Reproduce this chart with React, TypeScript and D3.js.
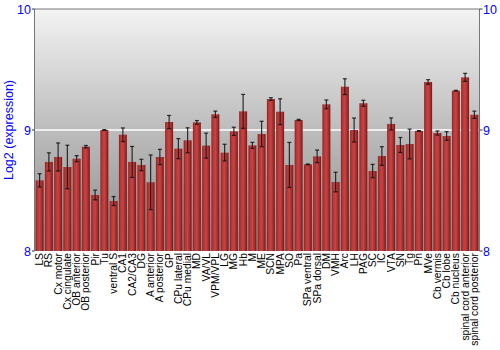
import React from "react";
import * as d3 from "d3";

const categories = ["LS","RS","Cx motor","Cx cingulate","OB anterior","OB posterior","Pir","Tu","ventral S","CA1","CA2/CA3","DG","A anterior","A posterior","GP","CPu lateral","CPu medial","MD","VA/VL","VPM/VPL","LG","MG","Hb","M","ME","SCN","MPA","SO","Pa","SPa ventral","SPa dorsal","DM","VMH","Arc","LH","PAG","SC","IC","VTA","SN","Tg","Pn","MVe","Cb vermis","Cb lobe","Cb nucleus","spinal cord anterior","spinal cord posterior"];
const values = [8.584,8.736,8.777,8.694,8.763,8.862,8.463,9.0,8.413,8.961,8.736,8.711,8.568,8.777,9.066,8.846,8.915,9.063,8.871,9.13,8.813,8.989,9.154,8.873,8.967,9.256,9.151,8.711,9.083,8.716,8.782,9.212,8.57,9.358,9.0,9.221,8.661,8.785,9.05,8.876,8.884,8.992,9.397,8.975,8.95,9.325,9.435,9.126];
const errors = [0.055,0.075,0.116,0.18,0.025,0.01,0.04,0.003,0.037,0.056,0.128,0.047,0.226,0.063,0.054,0.083,0.103,0.015,0.103,0.026,0.069,0.034,0.14,0.025,0.105,0.011,0.107,0.186,0.005,0.003,0.052,0.036,0.081,0.065,0.099,0.025,0.055,0.077,0.05,0.062,0.123,0.003,0.019,0.017,0.036,0.003,0.033,0.03];
const yTicks = [8, 9, 10];
const yTitle = "Log2 (expression)";

export default function App() {
  const W = 500, H = 350;
  const left = 34.5, right = 479.5, top = 9, bottom = 251;
  const x = d3.scaleBand<string>().domain(categories).range([left + 0.5, right - 0.5]).paddingInner(0.14).paddingOuter(0.07);
  const y = d3.scaleLinear().domain([8, 10]).range([bottom, top]);
  const font = "Arial, 'Liberation Sans', sans-serif";
  const bw = x.bandwidth();
  return (
    <svg width={W} height={H} style={{ position: "absolute", left: 0, top: 0, background: "#fff" }}>
      <defs>
        <linearGradient id="bg" x1="0" y1="0" x2="0" y2="1">
          <stop offset="0" stopColor="#f3f3f3" />
          <stop offset="0.5" stopColor="#bcbcbc" />
          <stop offset="1" stopColor="#8c8c8c" />
        </linearGradient>
        <linearGradient id="bar" x1="0" y1="0" x2="1" y2="0">
          <stop offset="0" stopColor="#8e1f1f" />
          <stop offset="0.2" stopColor="#b83535" />
          <stop offset="0.5" stopColor="#c44545" />
          <stop offset="0.8" stopColor="#a42a2a" />
          <stop offset="1" stopColor="#741414" />
        </linearGradient>
      </defs>
      <rect x={left} y={top} width={right - left} height={bottom - top} fill="url(#bg)" />
      <line x1={left} x2={right} y1={y(9)} y2={y(9)} stroke="#ffffff" strokeWidth={1.5} />
      {categories.map((c, i) => (
        <rect key={c} x={x(c)} y={y(values[i])} width={bw} height={bottom - y(values[i])} fill="url(#bar)" />
      ))}
      {categories.map((c, i) => {
        const cx = (x(c) as number) + bw / 2;
        const y1 = y(values[i] + errors[i]);
        const y2 = y(values[i] - errors[i]);
        return (
          <g key={"e" + c} stroke="#111" strokeOpacity={0.85} strokeWidth={1.2}>
            <line x1={cx} x2={cx} y1={y1} y2={y2} />
            <line x1={cx - 2} x2={cx + 2} y1={y1} y2={y1} />
            <line x1={cx - 2} x2={cx + 2} y1={y2} y2={y2} />
          </g>
        );
      })}
      <line x1={left} x2={right} y1={top} y2={top} stroke="#777" />
      <line x1={left} x2={left} y1={top} y2={bottom} stroke="#777" />
      <line x1={right} x2={right} y1={top} y2={bottom} stroke="#777" />
      {yTicks.map((t) => (
        <g key={t}>
          <line x1={left - 2.5} x2={left} y1={y(t)} y2={y(t)} stroke="#333" />
          <line x1={right} x2={right + 3} y1={y(t)} y2={y(t)} stroke="#333" />
          <text x={left - 3.5} y={y(t)} dy="0.36em" textAnchor="end" fill="#0000ff" fontFamily={font} fontSize={12.5}>{t}</text>
          <text x={right + 3.5} y={y(t)} dy="0.36em" textAnchor="start" fill="#0000ff" fontFamily={font} fontSize={12.5}>{t}</text>
        </g>
      ))}
      <text transform={`translate(13,${(top + bottom) / 2}) rotate(-90)`} textAnchor="middle" fill="#0000ff" fontFamily={font} fontSize={12.5}>{yTitle}</text>
      {categories.map((c) => (
        <text key={"l" + c} transform={`translate(${(x(c) as number) + bw / 2},${bottom + 2}) rotate(-90)`} dy="0.35em" textAnchor="end" fill="#000" fontFamily={font} fontSize={10.3}>{c}</text>
      ))}
    </svg>
  );
}
